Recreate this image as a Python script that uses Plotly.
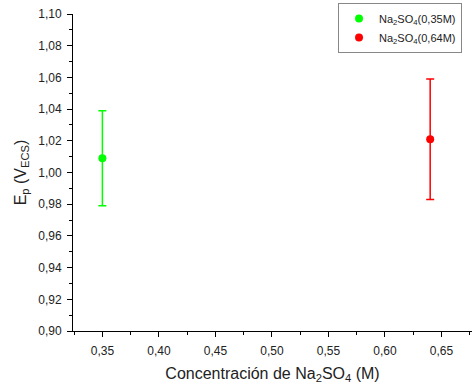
import plotly.graph_objects as go

# Peak potential vs. Na2SO4 concentration
series_names = ["Na<sub>2</sub>SO<sub>4</sub>(0,35M)", "Na<sub>2</sub>SO<sub>4</sub>(0,64M)"]
concentrations = [0.35, 0.64]
ep_values = [1.009, 1.021]
ep_errors = [0.030, 0.038]
colors = ["#00ff00", "#ff0000"]

y_ticks = [0.90, 0.92, 0.94, 0.96, 0.98, 1.00, 1.02, 1.04, 1.06, 1.08, 1.10]
x_ticks = [0.35, 0.40, 0.45, 0.50, 0.55, 0.60, 0.65]

fig = go.Figure()
for name, xv, yv, err, col in zip(series_names, concentrations, ep_values, ep_errors, colors):
    fig.add_trace(go.Scatter(
        x=[xv], y=[yv], name=name, mode="markers",
        marker=dict(color=col, size=8),
        error_y=dict(type="data", array=[err], visible=True, color=col,
                     thickness=1.5, width=4),
    ))

font_family = "Liberation Sans, Arial, sans-serif"
fig.update_layout(
    width=472, height=389,
    margin=dict(l=73, r=0, t=14, b=58),
    paper_bgcolor="white", plot_bgcolor="white",
    separators=",.",
    font=dict(family=font_family, size=12, color="#222"),
    showlegend=True,
    legend=dict(x=0.975, y=1.035, xanchor="right", yanchor="top",
                bgcolor="white", bordercolor="#888", borderwidth=1,
                font=dict(size=11, color="#222"), itemwidth=30,
                tracegroupgap=0),
    xaxis=dict(
        range=[0.324, 0.677], tickvals=x_ticks, tickformat=".2f",
        showgrid=False, zeroline=False, showline=True, linecolor="black",
        linewidth=1, ticks="outside", ticklen=5, tickcolor="black",
        ticklabelstandoff=4,
        minor=dict(dtick=0.025, ticks="outside", ticklen=3, tickcolor="black"),
        title=dict(text="Concentración de Na<sub>2</sub>SO<sub>4</sub> (M)",
                   font=dict(size=16, color="#222"), standoff=10),
    ),
    yaxis=dict(
        range=[0.90, 1.10], tickvals=y_ticks, tickformat=".2f",
        showgrid=False, zeroline=False, showline=True, linecolor="black",
        linewidth=1, ticks="outside", ticklen=5, tickcolor="black",
        ticklabelstandoff=3,
        minor=dict(dtick=0.01, ticks="outside", ticklen=3, tickcolor="black"),
        title=dict(text="E<sub>p</sub> (V<sub>ECS</sub>)",
                   font=dict(size=16, color="#222"), standoff=7),
    ),
)

fig.write_html("out.html")
